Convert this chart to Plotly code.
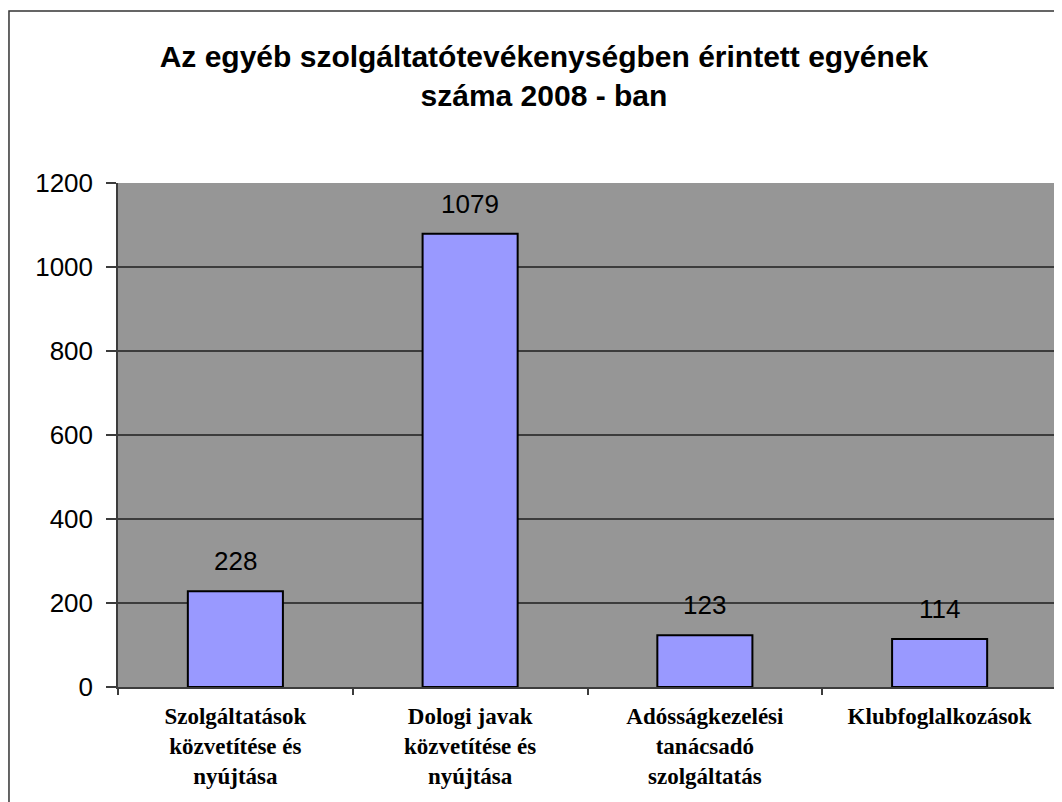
import plotly.graph_objects as go

categories = ["Szolgáltatások<br>közvetítése és<br>nyújtása",
              "Dologi javak<br>közvetítése és<br>nyújtása",
              "Adósságkezelési<br>tanácsadó<br>szolgáltatás",
              "Klubfoglalkozások"]
values = [228, 1079, 123, 114]
y_ticks = [0, 200, 400, 600, 800, 1000, 1200]

fig = go.Figure()
fig.add_trace(go.Bar(x=categories, y=values,
                     marker=dict(color="#9999FF", line=dict(color="black", width=2)),
                     width=0.405))

# value labels above the bars
for c, v in zip(categories, values):
    fig.add_annotation(x=c, y=v, text=str(v), showarrow=False,
                       yanchor="bottom", yshift=13,
                       font=dict(family="Liberation Sans, Arial", size=26, color="black"))

# outer chart frame
fig.add_shape(type="rect", xref="paper", yref="paper",
              x0=-0.1161, x1=1.2, y0=-0.5, y1=1.3413,
              line=dict(color="#333333", width=1.5), layer="below")

fig.update_layout(
    width=1054, height=794,
    margin=dict(l=110, r=5, t=175, b=115),
    paper_bgcolor="white", plot_bgcolor="#969696",
    showlegend=False,
    title=dict(text="<b>Az egyéb szolgáltatótevékenységben érintett egyének<br>száma 2008 - ban</b>",
               x=0.5085, xanchor="center", y=0.926, yanchor="top",
               font=dict(family="Liberation Sans, Arial", size=30, color="black")),
)
fig.update_yaxes(range=[0, 1200], tickvals=y_ticks, showgrid=True,
                 gridcolor="#3c3c3c", gridwidth=1.5, automargin=False,
                 showline=True, linecolor="#3c3c3c", linewidth=1.5,
                 ticks="outside", ticklen=10, tickcolor="#3c3c3c", tickwidth=1.5,
                 ticklabelstandoff=8, zeroline=False,
                 tickfont=dict(family="Liberation Sans, Arial", size=26, color="black"))
fig.update_xaxes(showline=True, linecolor="#3c3c3c", linewidth=1.5, automargin=False,
                 ticks="outside", tickson="boundaries", ticklen=6,
                 tickcolor="#3c3c3c", tickwidth=1.5, ticklabelstandoff=8,
                 tickfont=dict(family="Liberation Serif, Times New Roman", size=23,
                               color="black", weight="bold"))

fig.write_html("out.html")
